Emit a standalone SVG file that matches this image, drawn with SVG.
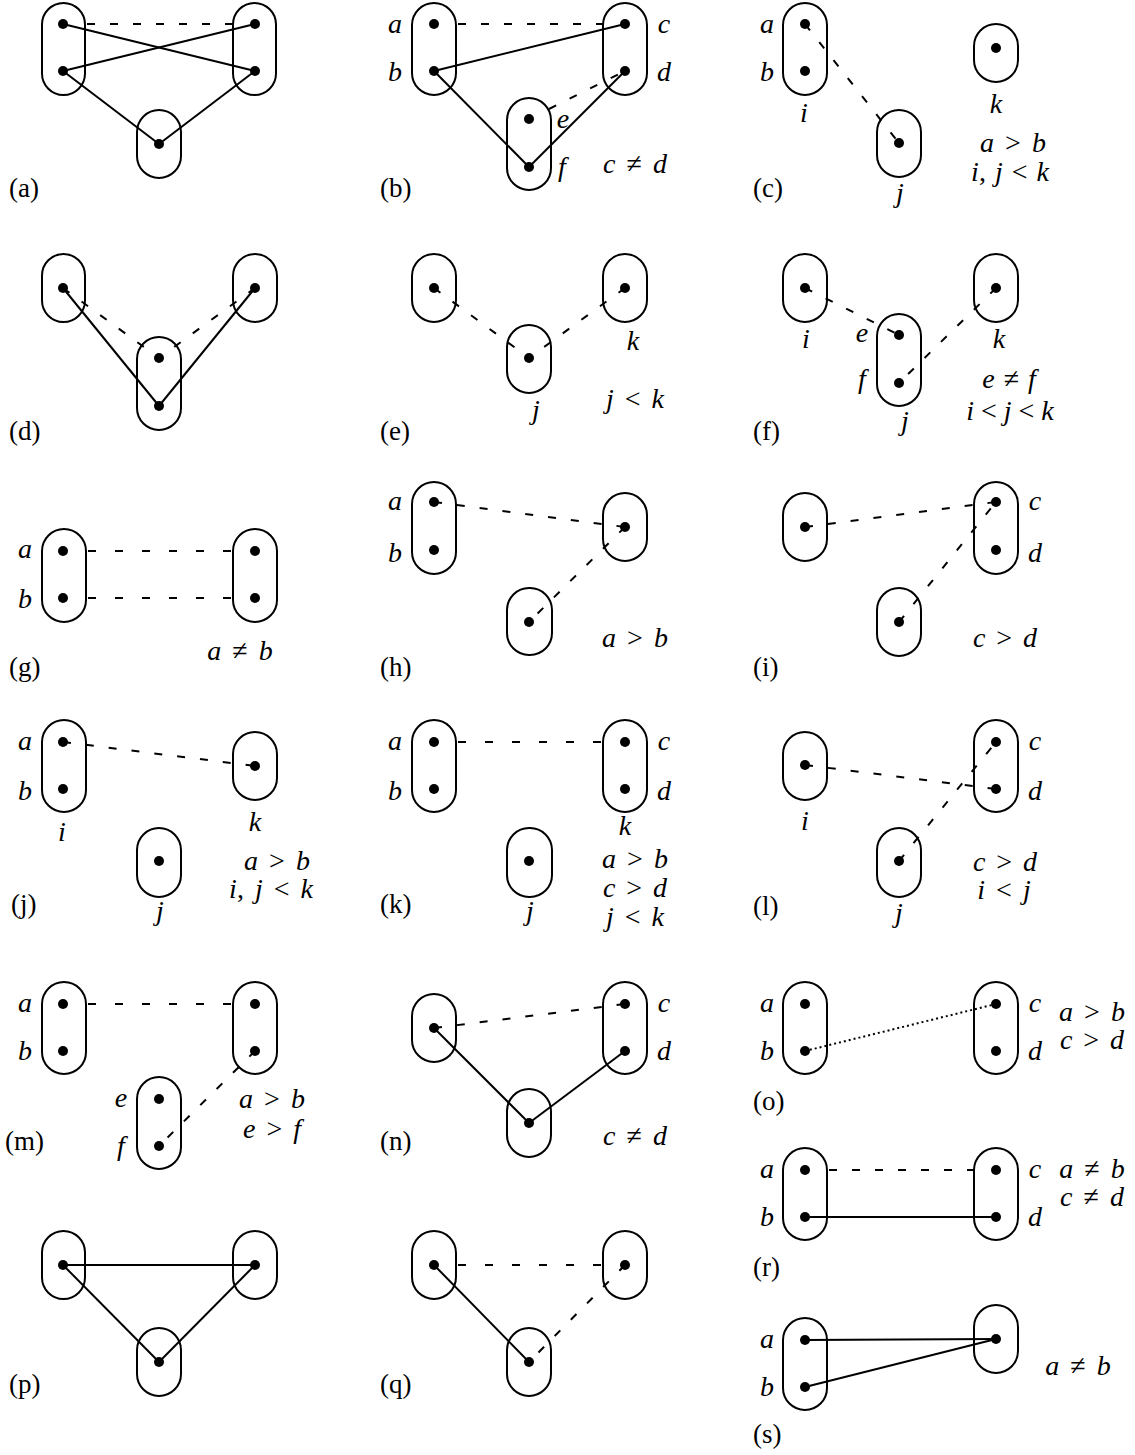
<svg xmlns="http://www.w3.org/2000/svg" width="1135" height="1455" viewBox="0 0 1135 1455">
<style>
.cap{fill:none;stroke:#000;stroke-width:2}
.dot{fill:#000}
.e{fill:none;stroke:#000;stroke-width:2}
.d{stroke-dasharray:8 15}
.h{stroke-dasharray:8 19}
.o{stroke-dasharray:2 3}
text{font-family:"Liberation Serif","Times New Roman",serif;font-size:28px;fill:#000}
.p{font-size:27px}
.i{font-style:italic}
.c{text-anchor:middle}
.x{word-spacing:4px}
</style>
<rect width="1135" height="1455" fill="#fff"/>

<!-- (a) -->
<g id="panel-a">
<g id="a-n1"><rect class="cap" x="42" y="3" width="43" height="92" rx="21.5"/><circle class="dot" cx="63" cy="24" r="5"/><circle class="dot" cx="63" cy="71" r="5"/></g>
<g id="a-n2"><rect class="cap" x="233" y="3" width="43" height="92" rx="21.5"/><circle class="dot" cx="255" cy="24" r="5"/><circle class="dot" cx="255" cy="71" r="5"/></g>
<g id="a-n3"><rect class="cap" x="137" y="110" width="44" height="68" rx="22"/><circle class="dot" cx="159" cy="144" r="5"/></g>
<g id="a-edges">
<line class="e d" x1="87" y1="24" x2="233" y2="24"/>
<line class="e" x1="63" y1="24" x2="255" y2="71"/>
<line class="e" x1="63" y1="71" x2="255" y2="24"/>
<line class="e" x1="63" y1="71" x2="159" y2="144"/>
<line class="e" x1="255" y1="71" x2="159" y2="144"/>
</g>
<text class="p" x="9" y="197">(a)</text>
</g>

<!-- (b) -->
<g id="panel-b">
<g id="b-n1"><rect class="cap" x="412" y="3" width="44" height="92" rx="22"/><circle class="dot" cx="434" cy="24" r="5"/><circle class="dot" cx="434" cy="71" r="5"/></g>
<g id="b-n2"><rect class="cap" x="603" y="3" width="44" height="92" rx="22"/><circle class="dot" cx="625" cy="24" r="5"/><circle class="dot" cx="625" cy="71" r="5"/></g>
<g id="b-n3"><rect class="cap" x="507" y="98" width="44" height="92" rx="22"/><circle class="dot" cx="529" cy="119" r="5"/><circle class="dot" cx="529" cy="167" r="5"/></g>
<g id="b-edges">
<line class="e d" x1="458" y1="24" x2="603" y2="24"/>
<line class="e" x1="434" y1="71" x2="625" y2="24"/>
<line class="e" x1="434" y1="71" x2="529" y2="167"/>
<line class="e" x1="625" y1="71" x2="529" y2="167"/>
<line class="e d" x1="549" y1="109" x2="625" y2="71"/>
</g>
<text class="i c" x="395" y="33">a</text><text class="i c" x="395" y="81">b</text>
<text class="i c" x="664" y="33">c</text><text class="i c" x="664" y="81">d</text>
<text class="i c" x="563" y="128">e</text><text class="i c" x="562" y="176">f</text>
<text class="c x" x="635" y="173"><tspan class="i">c</tspan> ≠ <tspan class="i">d</tspan></text>
<text class="p" x="380" y="197">(b)</text>
</g>

<!-- (c) -->
<g id="panel-c">
<g id="c-n1"><rect class="cap" x="783" y="3" width="44" height="92" rx="22"/><circle class="dot" cx="805" cy="24" r="5"/><circle class="dot" cx="805" cy="71" r="5"/></g>
<g id="c-n2"><rect class="cap" x="974" y="24" width="44" height="58" rx="22"/><circle class="dot" cx="996" cy="48" r="5"/></g>
<g id="c-n3"><rect class="cap" x="877" y="110" width="44" height="67" rx="22"/><circle class="dot" cx="899" cy="143" r="5"/></g>
<g id="c-edges">
<line class="e d" x1="805" y1="24" x2="899" y2="143"/>
</g>
<text class="i c" x="767" y="33">a</text><text class="i c" x="767" y="81">b</text>
<text class="i c" x="804" y="122">i</text>
<text class="i c" x="996" y="113">k</text>
<text class="i c" x="900" y="202">j</text>
<text class="c x" x="1013" y="152"><tspan class="i">a</tspan> &gt; <tspan class="i">b</tspan></text>
<text class="c" x="1010" y="181" word-spacing="2"><tspan class="i">i</tspan>, <tspan class="i">j</tspan> &lt; <tspan class="i">k</tspan></text>
<text class="p" x="753" y="197">(c)</text>
</g>

<!-- (d) -->
<g id="panel-d">
<g id="d-n1"><rect class="cap" x="42" y="254" width="43" height="68" rx="21.5"/><circle class="dot" cx="63" cy="288" r="5"/></g>
<g id="d-n2"><rect class="cap" x="233" y="254" width="44" height="68" rx="22"/><circle class="dot" cx="255" cy="288" r="5"/></g>
<g id="d-n3"><rect class="cap" x="137" y="337" width="44" height="93" rx="22"/><circle class="dot" cx="159" cy="358" r="5"/><circle class="dot" cx="159" cy="406" r="5"/></g>
<g id="d-edges">
<line class="e" x1="63" y1="288" x2="159" y2="406"/>
<line class="e" x1="255" y1="288" x2="159" y2="406"/>
<line class="e d" x1="63" y1="288" x2="159" y2="358"/>
<line class="e d" x1="255" y1="288" x2="159" y2="358"/>
</g>
<text class="p" x="9" y="440">(d)</text>
</g>

<!-- (e) -->
<g id="panel-e">
<g id="e-n1"><rect class="cap" x="412" y="254" width="44" height="68" rx="22"/><circle class="dot" cx="434" cy="288" r="5"/></g>
<g id="e-n2"><rect class="cap" x="603" y="254" width="44" height="68" rx="22"/><circle class="dot" cx="625" cy="288" r="5"/></g>
<g id="e-n3"><rect class="cap" x="507" y="325" width="44" height="68" rx="22"/><circle class="dot" cx="529" cy="358" r="5"/></g>
<g id="e-edges">
<line class="e d" x1="434" y1="288" x2="529" y2="358"/>
<line class="e d" x1="625" y1="288" x2="529" y2="358"/>
</g>
<text class="i c" x="633" y="350">k</text>
<text class="i c" x="536" y="419">j</text>
<text class="c x" x="635" y="408"><tspan class="i">j</tspan> &lt; <tspan class="i">k</tspan></text>
<text class="p" x="380" y="440">(e)</text>
</g>

<!-- (f) -->
<g id="panel-f">
<g id="f-n1"><rect class="cap" x="783" y="254" width="44" height="68" rx="22"/><circle class="dot" cx="805" cy="288" r="5"/></g>
<g id="f-n2"><rect class="cap" x="974" y="254" width="44" height="68" rx="22"/><circle class="dot" cx="996" cy="288" r="5"/></g>
<g id="f-n3"><rect class="cap" x="877" y="314" width="44" height="92" rx="22"/><circle class="dot" cx="899" cy="335" r="5"/><circle class="dot" cx="899" cy="383" r="5"/></g>
<g id="f-edges">
<line class="e d" x1="805" y1="288" x2="899" y2="335"/>
<line class="e d" x1="996" y1="288" x2="899" y2="383"/>
</g>
<text class="i c" x="806" y="348">i</text>
<text class="i c" x="862" y="342">e</text>
<text class="i c" x="862" y="388">f</text>
<text class="i c" x="999" y="348">k</text>
<text class="i c" x="905" y="430">j</text>
<text class="c" x="1009" y="388" word-spacing="2"><tspan class="i">e</tspan> ≠ <tspan class="i">f</tspan></text>
<text class="c" x="1010" y="420"><tspan class="i">i</tspan> &lt; <tspan class="i">j</tspan> &lt; <tspan class="i">k</tspan></text>
<text class="p" x="753" y="440">(f)</text>
</g>

<!-- (g) -->
<g id="panel-g">
<g id="g-n1"><rect class="cap" x="42" y="529" width="44" height="93" rx="22"/><circle class="dot" cx="63" cy="551" r="5"/><circle class="dot" cx="63" cy="598" r="5"/></g>
<g id="g-n2"><rect class="cap" x="233" y="529" width="44" height="93" rx="22"/><circle class="dot" cx="255" cy="551" r="5"/><circle class="dot" cx="255" cy="598" r="5"/></g>
<g id="g-edges">
<line class="e h" x1="88" y1="551" x2="233" y2="551"/>
<line class="e h" x1="88" y1="598" x2="233" y2="598"/>
</g>
<text class="i c" x="25" y="558">a</text><text class="i c" x="25" y="608">b</text>
<text class="c x" x="240" y="660"><tspan class="i">a</tspan> ≠ <tspan class="i">b</tspan></text>
<text class="p" x="9" y="676">(g)</text>
</g>

<!-- (h) -->
<g id="panel-h">
<g id="h-n1"><rect class="cap" x="412" y="482" width="44" height="92" rx="22"/><circle class="dot" cx="434" cy="502" r="5"/><circle class="dot" cx="434" cy="550" r="5"/></g>
<g id="h-n2"><rect class="cap" x="603" y="493" width="44" height="68" rx="22"/><circle class="dot" cx="625" cy="527" r="5"/></g>
<g id="h-n3"><rect class="cap" x="507" y="588" width="45" height="67" rx="22"/><circle class="dot" cx="529" cy="622" r="5"/></g>
<g id="h-edges">
<line class="e d" x1="434" y1="502" x2="625" y2="527"/>
<line class="e d" x1="625" y1="527" x2="529" y2="622"/>
</g>
<text class="i c" x="395" y="510">a</text><text class="i c" x="395" y="562">b</text>
<text class="c x" x="635" y="647"><tspan class="i">a</tspan> &gt; <tspan class="i">b</tspan></text>
<text class="p" x="380" y="676">(h)</text>
</g>

<!-- (i) -->
<g id="panel-i">
<g id="i-n1"><rect class="cap" x="783" y="493" width="44" height="68" rx="22"/><circle class="dot" cx="805" cy="527" r="5"/></g>
<g id="i-n2"><rect class="cap" x="974" y="482" width="44" height="92" rx="22"/><circle class="dot" cx="996" cy="502" r="5"/><circle class="dot" cx="996" cy="550" r="5"/></g>
<g id="i-n3"><rect class="cap" x="877" y="588" width="44" height="68" rx="22"/><circle class="dot" cx="899" cy="622" r="5"/></g>
<g id="i-edges">
<line class="e d" x1="805" y1="527" x2="996" y2="502"/>
<line class="e d" x1="899" y1="622" x2="996" y2="502"/>
</g>
<text class="i c" x="1035" y="510">c</text><text class="i c" x="1035" y="562">d</text>
<text class="c x" x="1005" y="647"><tspan class="i">c</tspan> &gt; <tspan class="i">d</tspan></text>
<text class="p" x="753" y="676">(i)</text>
</g>

<!-- (j) -->
<g id="panel-j">
<g id="j-n1"><rect class="cap" x="42" y="720" width="44" height="92" rx="22"/><circle class="dot" cx="63" cy="742" r="5"/><circle class="dot" cx="63" cy="789" r="5"/></g>
<g id="j-n2"><rect class="cap" x="233" y="732" width="44" height="68" rx="22"/><circle class="dot" cx="255" cy="766" r="5"/></g>
<g id="j-n3"><rect class="cap" x="137" y="828" width="44" height="69" rx="22"/><circle class="dot" cx="159" cy="861" r="5"/></g>
<g id="j-edges">
<line class="e d" x1="63" y1="742" x2="255" y2="766"/>
</g>
<text class="i c" x="25" y="750">a</text><text class="i c" x="25" y="800">b</text>
<text class="i c" x="62" y="841">i</text>
<text class="i c" x="255" y="831">k</text>
<text class="i c" x="160" y="920">j</text>
<text class="c x" x="277" y="870"><tspan class="i">a</tspan> &gt; <tspan class="i">b</tspan></text>
<text class="c x" x="271" y="898"><tspan class="i">i</tspan>, <tspan class="i">j</tspan> &lt; <tspan class="i">k</tspan></text>
<text class="p" x="11" y="913">(j)</text>
</g>

<!-- (k) -->
<g id="panel-k">
<g id="k-n1"><rect class="cap" x="412" y="720" width="44" height="92" rx="22"/><circle class="dot" cx="434" cy="742" r="5"/><circle class="dot" cx="434" cy="789" r="5"/></g>
<g id="k-n2"><rect class="cap" x="603" y="720" width="44" height="92" rx="22"/><circle class="dot" cx="625" cy="742" r="5"/><circle class="dot" cx="625" cy="789" r="5"/></g>
<g id="k-n3"><rect class="cap" x="507" y="828" width="45" height="69" rx="22"/><circle class="dot" cx="529" cy="861" r="5"/></g>
<g id="k-edges">
<line class="e h" x1="458" y1="742" x2="603" y2="742"/>
</g>
<text class="i c" x="395" y="750">a</text><text class="i c" x="395" y="800">b</text>
<text class="i c" x="664" y="750">c</text><text class="i c" x="664" y="800">d</text>
<text class="i c" x="625" y="835">k</text>
<text class="i c" x="530" y="920">j</text>
<text class="c x" x="635" y="868"><tspan class="i">a</tspan> &gt; <tspan class="i">b</tspan></text>
<text class="c x" x="635" y="897"><tspan class="i">c</tspan> &gt; <tspan class="i">d</tspan></text>
<text class="c x" x="635" y="926"><tspan class="i">j</tspan> &lt; <tspan class="i">k</tspan></text>
<text class="p" x="380" y="913">(k)</text>
</g>

<!-- (l) -->
<g id="panel-l">
<g id="l-n1"><rect class="cap" x="783" y="732" width="44" height="68" rx="22"/><circle class="dot" cx="805" cy="765" r="5"/></g>
<g id="l-n2"><rect class="cap" x="974" y="720" width="44" height="92" rx="22"/><circle class="dot" cx="996" cy="742" r="5"/><circle class="dot" cx="996" cy="789" r="5"/></g>
<g id="l-n3"><rect class="cap" x="877" y="828" width="44" height="69" rx="22"/><circle class="dot" cx="899" cy="861" r="5"/></g>
<g id="l-edges">
<line class="e d" x1="805" y1="765" x2="996" y2="789"/>
<line class="e d" x1="899" y1="861" x2="996" y2="742"/>
</g>
<text class="i c" x="805" y="830">i</text>
<text class="i c" x="1035" y="750">c</text><text class="i c" x="1035" y="800">d</text>
<text class="i c" x="899" y="922">j</text>
<text class="c x" x="1005" y="871"><tspan class="i">c</tspan> &gt; <tspan class="i">d</tspan></text>
<text class="c x" x="1004" y="899"><tspan class="i">i</tspan> &lt; <tspan class="i">j</tspan></text>
<text class="p" x="753" y="915">(l)</text>
</g>

<!-- (m) -->
<g id="panel-m">
<g id="m-n1"><rect class="cap" x="42" y="982" width="44" height="92" rx="22"/><circle class="dot" cx="63" cy="1004" r="5"/><circle class="dot" cx="63" cy="1051" r="5"/></g>
<g id="m-n2"><rect class="cap" x="233" y="982" width="44" height="92" rx="22"/><circle class="dot" cx="255" cy="1004" r="5"/><circle class="dot" cx="255" cy="1051" r="5"/></g>
<g id="m-n3"><rect class="cap" x="137" y="1077" width="44" height="92" rx="22"/><circle class="dot" cx="159" cy="1099" r="5"/><circle class="dot" cx="159" cy="1146" r="5"/></g>
<g id="m-edges">
<line class="e h" x1="88" y1="1004" x2="233" y2="1004"/>
<line class="e d" x1="255" y1="1051" x2="159" y2="1146"/>
</g>
<text class="i c" x="25" y="1012">a</text><text class="i c" x="25" y="1060">b</text>
<text class="i c" x="121" y="1107">e</text><text class="i c" x="121" y="1155">f</text>
<text class="c x" x="272" y="1108"><tspan class="i">a</tspan> &gt; <tspan class="i">b</tspan></text>
<text class="c x" x="272" y="1138"><tspan class="i">e</tspan> &gt; <tspan class="i">f</tspan></text>
<text class="p" x="5" y="1150">(m)</text>
</g>

<!-- (n) -->
<g id="panel-n">
<g id="n-n1"><rect class="cap" x="412" y="994" width="44" height="68" rx="22"/><circle class="dot" cx="434" cy="1028" r="5"/></g>
<g id="n-n2"><rect class="cap" x="603" y="982" width="44" height="92" rx="22"/><circle class="dot" cx="625" cy="1004" r="5"/><circle class="dot" cx="625" cy="1051" r="5"/></g>
<g id="n-n3"><rect class="cap" x="507" y="1089" width="44" height="68" rx="22"/><circle class="dot" cx="529" cy="1123" r="5"/></g>
<g id="n-edges">
<line class="e d" x1="434" y1="1028" x2="625" y2="1004"/>
<line class="e" x1="434" y1="1028" x2="529" y2="1123"/>
<line class="e" x1="625" y1="1051" x2="529" y2="1123"/>
</g>
<text class="i c" x="664" y="1012">c</text><text class="i c" x="664" y="1060">d</text>
<text class="c x" x="635" y="1145"><tspan class="i">c</tspan> ≠ <tspan class="i">d</tspan></text>
<text class="p" x="380" y="1150">(n)</text>
</g>

<!-- (o) -->
<g id="panel-o">
<g id="o-n1"><rect class="cap" x="783" y="982" width="44" height="92" rx="22"/><circle class="dot" cx="805" cy="1004" r="5"/><circle class="dot" cx="805" cy="1051" r="5"/></g>
<g id="o-n2"><rect class="cap" x="974" y="982" width="44" height="92" rx="22"/><circle class="dot" cx="996" cy="1004" r="5"/><circle class="dot" cx="996" cy="1051" r="5"/></g>
<g id="o-edges">
<line class="e o" stroke-width="1.5" x1="805" y1="1051" x2="996" y2="1004"/>
</g>
<text class="i c" x="767" y="1012">a</text><text class="i c" x="767" y="1060">b</text>
<text class="i c" x="1035" y="1012">c</text><text class="i c" x="1035" y="1060">d</text>
<text class="c x" x="1092" y="1021"><tspan class="i">a</tspan> &gt; <tspan class="i">b</tspan></text>
<text class="c x" x="1092" y="1049"><tspan class="i">c</tspan> &gt; <tspan class="i">d</tspan></text>
<text class="p" x="753" y="1110">(o)</text>
</g>

<!-- (r) -->
<g id="panel-r">
<g id="r-n1"><rect class="cap" x="783" y="1148" width="44" height="92" rx="22"/><circle class="dot" cx="805" cy="1170" r="5"/><circle class="dot" cx="805" cy="1217" r="5"/></g>
<g id="r-n2"><rect class="cap" x="974" y="1148" width="44" height="92" rx="22"/><circle class="dot" cx="996" cy="1170" r="5"/><circle class="dot" cx="996" cy="1217" r="5"/></g>
<g id="r-edges">
<line class="e d" x1="829" y1="1170" x2="974" y2="1170"/>
<line class="e" x1="805" y1="1217" x2="996" y2="1217"/>
</g>
<text class="i c" x="767" y="1178">a</text><text class="i c" x="767" y="1226">b</text>
<text class="i c" x="1035" y="1178">c</text><text class="i c" x="1035" y="1226">d</text>
<text class="c x" x="1092" y="1178"><tspan class="i">a</tspan> ≠ <tspan class="i">b</tspan></text>
<text class="c x" x="1092" y="1206"><tspan class="i">c</tspan> ≠ <tspan class="i">d</tspan></text>
<text class="p" x="753" y="1276">(r)</text>
</g>

<!-- (p) -->
<g id="panel-p">
<g id="p-n1"><rect class="cap" x="42" y="1231" width="43" height="68" rx="21.5"/><circle class="dot" cx="63" cy="1265" r="5"/></g>
<g id="p-n2"><rect class="cap" x="233" y="1231" width="44" height="68" rx="22"/><circle class="dot" cx="255" cy="1265" r="5"/></g>
<g id="p-n3"><rect class="cap" x="137" y="1328" width="44" height="68" rx="22"/><circle class="dot" cx="159" cy="1362" r="5"/></g>
<g id="p-edges">
<line class="e" x1="63" y1="1265" x2="255" y2="1265"/>
<line class="e" x1="63" y1="1265" x2="159" y2="1362"/>
<line class="e" x1="255" y1="1265" x2="159" y2="1362"/>
</g>
<text class="p" x="9" y="1393">(p)</text>
</g>

<!-- (q) -->
<g id="panel-q">
<g id="q-n1"><rect class="cap" x="412" y="1231" width="44" height="68" rx="22"/><circle class="dot" cx="434" cy="1265" r="5"/></g>
<g id="q-n2"><rect class="cap" x="603" y="1231" width="44" height="68" rx="22"/><circle class="dot" cx="625" cy="1265" r="5"/></g>
<g id="q-n3"><rect class="cap" x="507" y="1328" width="44" height="68" rx="22"/><circle class="dot" cx="529" cy="1362" r="5"/></g>
<g id="q-edges">
<line class="e h" x1="458" y1="1265" x2="603" y2="1265"/>
<line class="e" x1="434" y1="1265" x2="529" y2="1362"/>
<line class="e d" x1="625" y1="1265" x2="529" y2="1362"/>
</g>
<text class="p" x="380" y="1393">(q)</text>
</g>

<!-- (s) -->
<g id="panel-s">
<g id="s-n1"><rect class="cap" x="783" y="1318" width="44" height="92" rx="22"/><circle class="dot" cx="805" cy="1340" r="5"/><circle class="dot" cx="805" cy="1387" r="5"/></g>
<g id="s-n2"><rect class="cap" x="974" y="1305" width="44" height="68" rx="22"/><circle class="dot" cx="996" cy="1339" r="5"/></g>
<g id="s-edges">
<line class="e" x1="805" y1="1340" x2="996" y2="1339"/>
<line class="e" x1="805" y1="1387" x2="996" y2="1339"/>
</g>
<text class="i c" x="767" y="1348">a</text><text class="i c" x="767" y="1396">b</text>
<text class="c x" x="1078" y="1375"><tspan class="i">a</tspan> ≠ <tspan class="i">b</tspan></text>
<text class="p" x="753" y="1443">(s)</text>
</g>
</svg>
